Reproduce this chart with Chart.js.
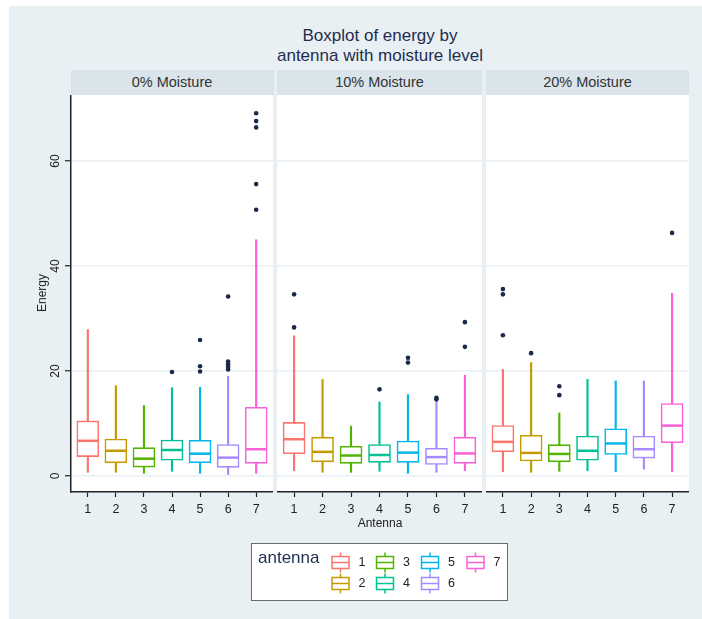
<!DOCTYPE html>
<html>
<head>
<meta charset="utf-8">
<script src="https://cdn.jsdelivr.net/npm/chart.js@4.4.0/dist/chart.umd.min.js"></script>
<style>
  body { margin:0; width:702px; height:619px; position:relative; background:#fff; overflow:hidden;
         font-family:"Liberation Sans", Arial, sans-serif; }
  #bg { position:absolute; left:9px; top:6px; width:693px; height:613px; background:#E8F0F3; }
  .t { position:absolute; white-space:nowrap; }
  .title { left:0; width:760px; text-align:center; font-size:17px; color:#1F2D50; }
  .strip { position:absolute; top:70px; height:25px; line-height:25px; background:#D9E5EA;
           text-align:center; font-size:14.5px; color:#333; }
  canvas.panel { position:absolute; top:95px; }
  #legend { position:absolute; left:251px; top:543px; width:255px; height:56px;
            border:1.5px solid #6b6b6b; background:#fff; }
  .lab { position:absolute; font-size:12.5px; color:#222; }
</style>
</head>
<body>
<div id="bg"></div>
<div class="t title" style="top:26px">Boxplot of energy by</div>
<div class="t title" style="top:46px">antenna with moisture level</div>

<div class="strip" id="s0" style="left:70.5px;width:203px"></div>
<div class="strip" id="s1" style="left:277px;width:205px"></div>
<div class="strip" id="s2" style="left:486px;width:203px"></div>

<canvas class="panel" id="p0" width="243" height="425" style="left:30px"></canvas>
<canvas class="panel" id="p1" width="205" height="425" style="left:277px"></canvas>
<canvas class="panel" id="p2" width="203" height="425" style="left:486px"></canvas>

<div class="t" style="left:42px;top:293px;font-size:12px;color:#222;transform:translate(-50%,-50%) rotate(-90deg)">Energy</div>
<div class="t" style="left:380px;top:523px;font-size:12px;color:#222;transform:translate(-50%,-50%)">Antenna</div>

<div id="legend">
  <div class="t" style="left:6px;top:4px;font-size:17px;color:#1F2D50">antenna</div>
  <canvas id="legIcons" width="255" height="56" style="position:absolute;left:0;top:0"></canvas>
</div>

<script>
const antennas = ['1', '2', '3', '4', '5', '6', '7'];
const moisture = ['0% Moisture', '10% Moisture', '20% Moisture'];
const yTicks = [0, 20, 40, 60];
const colors = ['#F8766D', '#C49A00', '#53B400', '#00C094', '#00B6EB', '#A58AFF', '#FB61D7'];

// 0% moisture
const low0  = [0.7, 0.7, 0.5, 0.9, 0.5, 0.3, 0.5];
const q1_0  = [3.7, 2.5, 1.7, 3.0, 2.5, 1.65, 2.4];
const med0  = [6.7, 4.8, 3.3, 4.95, 4.25, 3.5, 5.1];
const q3_0  = [10.5, 7.05, 5.4, 6.86, 6.8, 6.0, 13.1];
const high0 = [27.9, 17.2, 13.4, 16.8, 16.9, 19.0, 45.0];
const out0  = [[], [], [], [19.8], [25.9, 20.9, 19.9], [34.2, 21.8, 21.3, 20.8, 20.3], [69.1, 67.6, 66.4, 55.6, 50.7]];

// 10% moisture
const low1  = [1.0, 0.7, 0.7, 0.9, 0.5, 0.7, 1.0];
const q1_1  = [4.25, 2.7, 2.4, 2.6, 2.6, 2.2, 2.4];
const med1  = [7.0, 4.6, 3.9, 4.0, 4.45, 3.6, 4.3];
const q3_1  = [10.2, 7.4, 5.65, 6.0, 6.67, 5.27, 7.4];
const high1 = [26.7, 18.4, 9.5, 14.1, 15.5, 14.5, 19.2];
const out1  = [[34.6, 28.3], [], [], [16.5], [22.5, 21.6], [14.9, 14.6], [29.3, 24.6]];

// 20% moisture
const low2  = [0.8, 0.7, 0.9, 1.0, 0.8, 1.3, 0.8];
const q1_2  = [4.6, 2.85, 2.7, 3.0, 4.1, 3.4, 6.35];
const med2  = [6.5, 4.4, 4.2, 4.8, 6.2, 5.1, 9.6];
const q3_2  = [9.6, 7.75, 5.97, 7.6, 9.0, 7.6, 13.8];
const high2 = [20.3, 21.6, 12.0, 18.4, 18.1, 18.1, 34.8];
const out2  = [[35.6, 34.6, 26.8], [23.4], [17.1, 15.4], [], [], [], [46.3]];

const panels = [
  [low0, q1_0, med0, q3_0, high0, out0],
  [low1, q1_1, med1, q3_1, high1, out1],
  [low2, q1_2, med2, q3_2, high2, out2]
];

moisture.forEach((m, i) => { document.getElementById('s' + i).textContent = m; });

const whitePanel = {
  id: 'whitePanel',
  beforeDraw(c) {
    const a = c.chartArea;
    c.ctx.save();
    c.ctx.fillStyle = '#fff';
    c.ctx.fillRect(a.left, a.top, a.right - a.left, a.bottom - a.top);
    c.ctx.restore();
  }
};

// rotated y tick labels (first panel only)
const yLabels = {
  id: 'yLabels',
  afterDraw(c) {
    const s = c.scales.y, ctx = c.ctx;
    ctx.save();
    ctx.fillStyle = '#222';
    ctx.font = '12px "Liberation Sans", Arial, sans-serif';
    ctx.textAlign = 'center';
    ctx.textBaseline = 'middle';
    s.ticks.forEach(t => {
      ctx.save();
      ctx.translate(c.chartArea.left - 15, s.getPixelForValue(t.value));
      ctx.rotate(-Math.PI / 2);
      ctx.fillText(String(t.value), 0, 0);
      ctx.restore();
    });
    ctx.restore();
  }
};

function makePanel(idx) {
  const [lows, q1s, meds, q3s, highs, outs] = panels[idx];
  const first = idx === 0;
  const outPts = [];
  outs.forEach((list, i) => list.forEach(v => outPts.push({ x: i + 1, y: v })));

  new Chart(document.getElementById('p' + idx), {
    type: 'bar',
    data: {
      datasets: [
        { data: antennas.map((a, i) => ({ x: i + 1, y: [lows[i], q1s[i]] })),
          backgroundColor: colors, barThickness: 1.5, grouped: false, order: 4 },
        { data: antennas.map((a, i) => ({ x: i + 1, y: [q3s[i], highs[i]] })),
          backgroundColor: colors, barThickness: 1.5, grouped: false, order: 4 },
        { data: antennas.map((a, i) => ({ x: i + 1, y: [q1s[i], q3s[i]] })),
          backgroundColor: '#fff', borderColor: colors, borderWidth: 1.6, borderSkipped: false,
          barThickness: 22, grouped: false, order: 3 },
        { type: 'scatter', data: antennas.map((a, i) => ({ x: i + 1, y: meds[i] })),
          pointStyle: 'line', pointRadius: 10.5, pointBorderWidth: 2.5,
          pointBorderColor: colors, pointBackgroundColor: colors, order: 2 },
        { type: 'scatter', data: outPts, pointRadius: 2.3, pointBorderWidth: 0,
          pointBackgroundColor: '#1B2A4A', order: 1 }
      ]
    },
    options: {
      responsive: false,
      animation: false,
      events: [],
      layout: { padding: 0, autoPadding: false },
      plugins: { legend: { display: false }, tooltip: { enabled: false } },
      scales: {
        x: {
          type: 'linear', min: 0.4, max: 7.6, offset: false,
          afterBuildTicks: s => { s.ticks = antennas.map((a, i) => ({ value: i + 1 })); },
          afterFit: s => { s.height = 28; },
          grid: { offset: false, drawOnChartArea: false, tickLength: 5, tickColor: '#222', tickWidth: 1.2 },
          border: { display: true, color: '#222', width: 1.5 },
          ticks: { color: '#222', font: { size: 12.5, family: '"Liberation Sans", Arial, sans-serif' },
                   padding: 5, maxRotation: 0, autoSkip: false, callback: v => antennas[v - 1] }
        },
        y: {
          min: -3.05, max: 72.57,
          afterBuildTicks: s => { s.ticks = yTicks.map(v => ({ value: v })); },
          afterFit: s => { s.width = first ? 41 : 0; },
          grid: { color: '#E8F0F3', lineWidth: 1.5, drawTicks: first, tickLength: 6,
                  tickColor: '#222', tickWidth: 1.2 },
          border: { display: first, color: '#222', width: 1.5 },
          ticks: { display: false }
        }
      }
    },
    plugins: first ? [whitePanel, yLabels] : [whitePanel]
  });
}

[0, 1, 2].forEach(makePanel);

// legend keys
const lc = document.getElementById('legIcons').getContext('2d');
const keyX = [88.5, 133, 178, 223.5];
const rowY = [18.5, 39.5];
antennas.forEach((a, i) => {
  const cx = keyX[Math.floor(i / 2)], cy = rowY[i % 2];
  lc.strokeStyle = colors[i];
  lc.lineWidth = 1.5;
  lc.strokeRect(cx - 8.5, cy - 6, 17, 12);
  lc.beginPath();
  lc.moveTo(cx - 8.5, cy); lc.lineTo(cx + 8.5, cy);
  lc.moveTo(cx, cy - 6); lc.lineTo(cx, cy - 10);
  lc.moveTo(cx, cy + 6); lc.lineTo(cx, cy + 10);
  lc.stroke();
  const lab = document.createElement('div');
  lab.className = 'lab';
  lab.textContent = a;
  lab.style.left = (cx + 18) + 'px';
  lab.style.top = (cy - 8) + 'px';
  document.getElementById('legend').appendChild(lab);
});
</script>
</body>
</html>
